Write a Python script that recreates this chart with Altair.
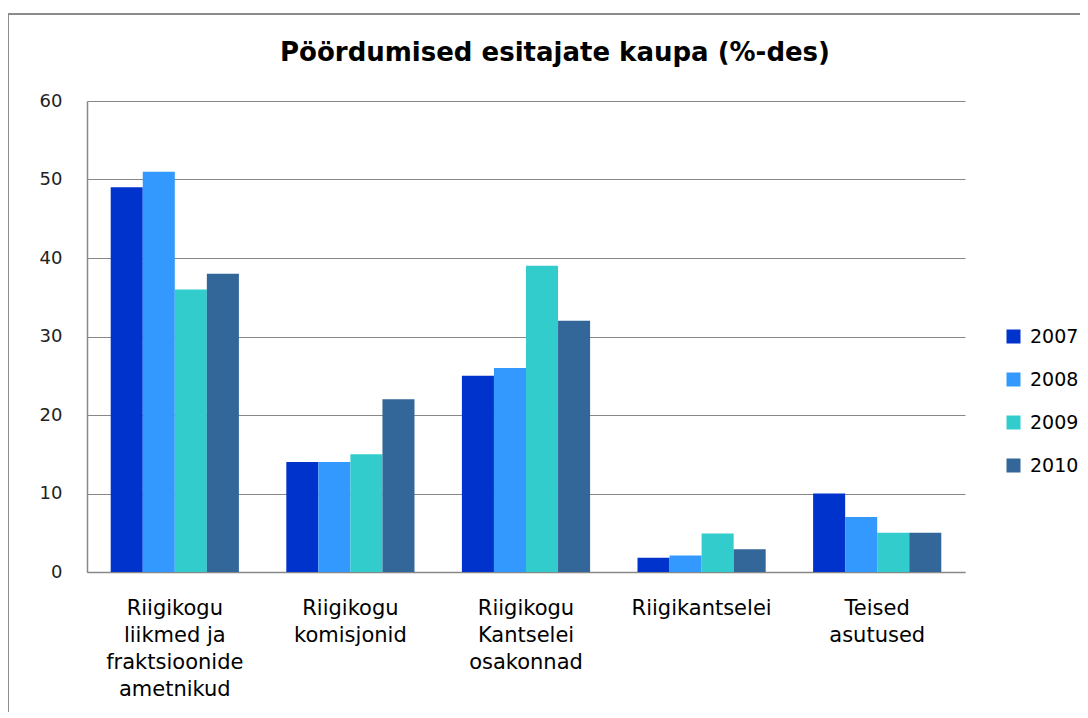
import altair as alt
import pandas as pd

categories = [
    "Riigikogu|liikmed ja|fraktsioonide|ametnikud",
    "Riigikogu|komisjonid",
    "Riigikogu|Kantselei|osakonnad",
    "Riigikantselei",
    "Teised|asutused",
]
years = ["2007", "2008", "2009", "2010"]
v2007 = [49, 14, 25, 1.8, 10]
v2008 = [51, 14, 26, 2.1, 7]
v2009 = [36, 15, 39, 4.9, 5]
v2010 = [38, 22, 32, 2.9, 5]
colors = ["#0033CC", "#3399FF", "#33CCCC", "#336699"]
title_text = "Pöördumised esitajate kaupa (%-des)"

rows = []
for y, vals in zip(years, [v2007, v2008, v2009, v2010]):
    for c, v in zip(categories, vals):
        rows.append({"cat": c, "year": y, "value": v})
df = pd.DataFrame(rows)

bars = alt.Chart(df).mark_bar().encode(
    x=alt.X("cat:N", sort=categories,
            scale=alt.Scale(paddingInner=0.27, paddingOuter=0.135),
            axis=alt.Axis(title=None, labelAngle=0, ticks=False, domainColor="#888888",
                          domainWidth=1.5, labelFont="DejaVu Sans", labelFontSize=21,
                          labelColor="#000000", labelPadding=25, labelLineHeight=27,
                          labelBaseline="top", labelLimit=300,
                          labelExpr="split(datum.label, '|')")),
    xOffset=alt.XOffset("year:N", sort=years, scale=alt.Scale(paddingInner=0, paddingOuter=0)),
    y=alt.Y("value:Q", scale=alt.Scale(domain=[0, 60], nice=False),
            axis=alt.Axis(title=None, values=[0, 10, 20, 30, 40, 50, 60], ticks=False,
                          domainColor="#888888", domainWidth=1.5, gridColor="#888888",
                          gridWidth=1.2, labelFont="DejaVu Sans", labelFontSize=18,
                          labelColor="#222222", labelPadding=25)),
    color=alt.Color("year:N", sort=years, scale=alt.Scale(domain=years, range=colors),
                    legend=alt.Legend(title=None, orient="none", legendX=917, legendY=226,
                                      symbolType="square", symbolSize=196,
                                      symbolStrokeWidth=0, labelFont="DejaVu Sans",
                                      labelFontSize=19, labelColor="#000000",
                                      labelOffset=7, rowPadding=23)),
)

one = alt.Data(values=[{"a": 1}])
frame_top = alt.Chart(one).mark_rule(color="#8c8c8c", strokeWidth=2).encode(
    x=alt.value(-80), x2=alt.value(1100), y=alt.value(-87))
frame_left = alt.Chart(one).mark_rule(color="#8c8c8c", strokeWidth=2).encode(
    x=alt.value(-79), y=alt.value(-88), y2=alt.value(720))
title = alt.Chart(one).mark_text(
    text=title_text, font="DejaVu Sans", fontSize=26, fontWeight="bold",
    color="#000000", align="center", baseline="alphabetic").encode(
    x=alt.value(468), y=alt.value(-40))

chart = alt.layer(frame_top, frame_left, title, bars).properties(
    width=878, height=471,
    autosize=alt.AutoSizeParams(type="none"),
    padding={"left": 79, "top": 93, "right": 115, "bottom": 140},
).configure_view(stroke=None).configure_axis(grid=True).configure_axisX(grid=False)

chart.save("out.html", embed_options={"renderer": "svg", "actions": False})
